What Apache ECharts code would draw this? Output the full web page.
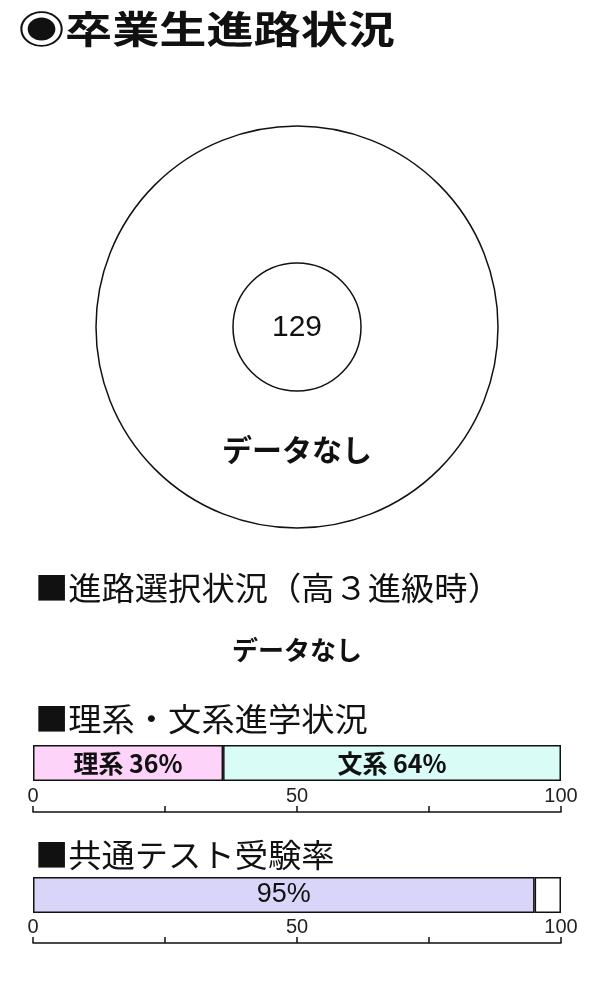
<!DOCTYPE html>
<html><head><meta charset="utf-8">
<script src="https://cdn.jsdelivr.net/npm/echarts@6/dist/echarts.min.js"></script>
<style>html,body{margin:0;padding:0;background:#fff}#c{width:600px;height:1000px}</style>
</head><body><div id="c"></div>
<script>
const FONT = '"Noto Sans CJK JP","Noto Sans",sans-serif';
const titleText = '◉卒業生進路状況';
const graduateTotal = 129;
const pathCategories = [];
const pathValues = [];
const noDataText = 'データなし';
const choiceTitle = '■進路選択状況（高３進級時）';
const streamTitle = '■理系・文系進学状況';
const streamCategories = ['理系', '文系'];
const streamValues = [36, 64];
const streamColors = ['#fdd3f9', '#d9fcf6'];
const examTitle = '■共通テスト受験率';
const examValue = 95;
const axisLabelValues = [0, 50, 100];

const chart = echarts.init(document.getElementById('c'));

function axisCfg(gi, off) {
  return {
    type: 'value', gridIndex: gi, min: 0, max: 100, interval: 25, offset: off,
    axisLine: { show: true, lineStyle: { color: '#111', width: 1.5 } },
    axisTick: { show: true, inside: true, length: 6, lineStyle: { color: '#111', width: 1.5 } },
    axisLabel: { inside: true, margin: 6, color: '#222', fontSize: 20, fontFamily: 'Liberation Sans',
      formatter: v => axisLabelValues.includes(v) ? String(v) : '' },
    splitLine: { show: false }
  };
}
const yCfg = gi => ({ type: 'category', gridIndex: gi, data: [''], show: false });
const border = { borderColor: '#111', borderWidth: 1.5 };
const lbl = { show: true, position: 'inside', color: '#111', fontSize: 25, fontWeight: 'bold', fontFamily: FONT };

const pieData = pathCategories.map((n, i) => ({ name: n, value: pathValues[i] }));
const hdr = (text, y) => ({ type: 'text', x: 35, y: y, scaleX: 1.04, z: 100, style: { text: text, font: '32px ' + FONT, fill: '#111', verticalAlign: 'middle' } });

chart.setOption({
  animation: false,
  graphic: [
    { type: 'text', left: 18, top: 10, scaleX: 1.24, z: 100, style: { text: titleText, font: 'bold 38px ' + FONT, fill: '#111' } },
    { type: 'text', x: 297, y: 328, z: 100, style: { text: String(graduateTotal), font: '30px "Liberation Sans"', fill: '#111', align: 'center', verticalAlign: 'middle' } },
    { type: 'text', x: 297, y: 450, z: 100, style: { text: noDataText, font: 'bold 30px ' + FONT, fill: '#111', align: 'center', verticalAlign: 'middle' } },
    hdr(choiceTitle, 588),
    { type: 'text', x: 297, y: 650, z: 100, style: { text: noDataText, font: 'bold 26px ' + FONT, fill: '#111', align: 'center', verticalAlign: 'middle' } },
    hdr(streamTitle, 719),
    hdr(examTitle, 855)
  ],
  grid: [
    { left: 33, top: 745, width: 528, height: 36 },
    { left: 33, top: 877, width: 528, height: 36 }
  ],
  xAxis: [axisCfg(0, 31), axisCfg(1, 30)],
  yAxis: [yCfg(0), yCfg(1)],
  series: [
    { type: 'pie', center: [297, 327], radius: [64, 201], data: pieData, label: { show: false },
      showEmptyCircle: true, emptyCircleStyle: { color: '#fff', borderColor: '#111', borderWidth: 1.5 } },
    ...streamCategories.map((c, i) => ({
      type: 'bar', name: c, stack: 's', xAxisIndex: 0, yAxisIndex: 0, barWidth: '100%',
      data: [streamValues[i]], itemStyle: Object.assign({ color: streamColors[i] }, border),
      label: Object.assign({}, lbl, { formatter: p => p.seriesName + ' ' + p.value + '%' })
    })),
    { type: 'bar', name: '受験', stack: 'e', xAxisIndex: 1, yAxisIndex: 1, barWidth: '100%',
      data: [examValue], itemStyle: Object.assign({ color: '#d9d5f8' }, border),
      label: Object.assign({}, lbl, { formatter: p => p.value + '%', fontWeight: 'normal', fontFamily: 'Liberation Sans', fontSize: 27 }) },
    { type: 'bar', name: '未受験', stack: 'e', xAxisIndex: 1, yAxisIndex: 1, barWidth: '100%',
      data: [100 - examValue], itemStyle: Object.assign({ color: '#fff' }, border), label: { show: false } }
  ]
});
</script></body></html>
